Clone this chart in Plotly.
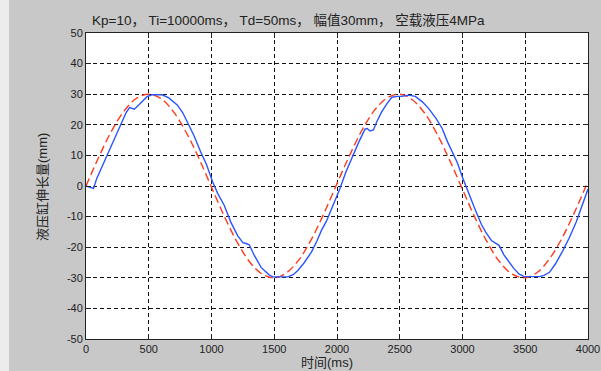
import plotly.graph_objects as go

# Reference (red dashed) curve, sampled every 100 ms
ref_t = list(range(0, 4001, 100))
ref_v = [0.0, 9.3, 17.7, 24.3, 28.6, 30.0, 28.5, 24.1, 17.4, 9.0,
         -0.4, -9.7, -18.0, -24.6, -28.7, -30.0, -28.3, -23.9, -17.1, -8.6,
         0.8, 10.0, 18.3, 24.8, 28.8, 30.0, 28.2, 23.7, 16.8, 8.2,
         -1.1, -10.4, -18.6, -25.0, -28.9, -30.0, -28.1, -23.4, -16.5, -7.9,
         1.5]

# Measured (blue) response
blue_t = [0, 20, 60, 85, 140, 192, 240, 272, 320, 347, 370, 385, 420, 460, 486,
          526, 606, 660, 727, 770, 807, 860, 914, 960, 1008, 1050, 1100, 1154,
          1208, 1250, 1275, 1301, 1341, 1395, 1461, 1490, 1608, 1650, 1688,
          1740, 1796, 1840, 1876, 1916, 1956, 2023, 2070, 2116, 2170, 2223,
          2240, 2263, 2290, 2317, 2357, 2400, 2437, 2480, 2517, 2571, 2624,
          2680, 2731, 2790, 2838, 2880, 2918, 2960, 2998, 3040, 3078, 3104,
          3150, 3185, 3230, 3265, 3291, 3330, 3371, 3410, 3452, 3492, 3612,
          3650, 3693, 3740, 3800, 3850, 3906, 3950, 4000]
blue_v = [0.0, -0.3, -0.8, 2.4, 7.5, 12.2, 17.0, 20.0, 24.0, 25.6, 25.2, 25.1,
          26.5, 28.3, 29.2, 29.8, 29.8, 28.8, 26.5, 24.0, 21.0, 16.5, 11.1, 7.0,
          1.5, -2.5, -6.2, -11.8, -16.2, -18.5, -18.8, -19.2, -22.7, -26.6,
          -29.1, -29.7, -29.7, -29.0, -27.6, -25.0, -21.6, -18.0, -14.5, -11.5,
          -7.5, -0.9, 4.5, 9.0, 14.0, 18.6, 18.8, 18.0, 18.3, 21.0, 24.3, 27.0,
          29.0, 29.3, 29.3, 29.7, 29.3, 27.5, 25.3, 22.0, 18.8, 14.5, 11.1, 7.5,
          3.0, -1.5, -5.0, -8.0, -12.5, -15.1, -17.8, -18.6, -19.4, -22.5, -24.9,
          -27.0, -28.8, -29.6, -29.6, -29.2, -28.2, -25.5, -21.1, -17.0, -11.8,
          -7.0, -1.0]

x_ticks = [0, 500, 1000, 1500, 2000, 2500, 3000, 3500, 4000]
y_ticks = [-50, -40, -30, -20, -10, 0, 10, 20, 30, 40, 50]

title_text = "Kp=10， Ti=10000ms， Td=50ms， 幅值30mm， 空载液压4MPa"
x_title = "时间(ms)"
y_title = "液压缸伸长量(mm)"

W, H = 601, 371
L, R, T, B = 86, 13, 33, 32
pw, ph = W - L - R, H - T - B

def px_to_paper_x(px):
    return (px - L) / pw

def px_to_paper_y(py):
    return (H - B - py) / ph

fig = go.Figure()
fig.add_trace(go.Scatter(x=ref_t, y=ref_v, mode="lines",
                         line=dict(color="#ff3a1a", width=1.4, dash="8px,4px", shape="spline"),
                         showlegend=False, hoverinfo="skip"))
fig.add_trace(go.Scatter(x=blue_t, y=blue_v, mode="lines",
                         line=dict(color="#2a55ff", width=1.4),
                         showlegend=False, hoverinfo="skip"))

font_main = "Liberation Sans, Arial, Noto Sans CJK SC, sans-serif"

axis_common = dict(showline=True, linecolor="#222", linewidth=1, mirror="ticks",
                   ticks="inside", ticklen=5, tickcolor="#222",
                   showgrid=True, gridcolor="#111", gridwidth=1, griddash="4px,3px",
                   zeroline=False, ticklabeloverflow="allow",
                   tickfont=dict(size=11, color="#222", family=font_main))

fig.update_xaxes(range=[0, 4000], tickvals=x_ticks, ticktext=[str(v) for v in x_ticks], **axis_common)
fig.update_yaxes(range=[-50, 50], tickvals=y_ticks, ticktext=[str(v) for v in y_ticks], **axis_common)

fig.update_layout(
    width=W, height=H,
    margin=dict(l=L, r=R, t=T, b=B, pad=0, autoexpand=False),
    paper_bgcolor="#c8c8c8", plot_bgcolor="white",
    font=dict(family=font_main, color="#222"),
    shapes=[dict(type="rect", xref="paper", yref="paper",
                 x0=px_to_paper_x(0), x1=px_to_paper_x(9),
                 y0=px_to_paper_y(H), y1=px_to_paper_y(0),
                 fillcolor="#ececec", line=dict(width=0), layer="below")],
    annotations=[
        dict(text=title_text, xref="paper", yref="paper",
             x=px_to_paper_x(288), y=px_to_paper_y(21), xanchor="center", yanchor="middle",
             showarrow=False, font=dict(size=13.5, color="#222", family=font_main)),
        dict(text=x_title, xref="paper", yref="paper",
             x=px_to_paper_x(327), y=px_to_paper_y(362), xanchor="center", yanchor="middle",
             showarrow=False, font=dict(size=13, color="#222", family=font_main)),
        dict(text=y_title, xref="paper", yref="paper", textangle=-90,
             x=px_to_paper_x(42), y=px_to_paper_y(187), xanchor="center", yanchor="middle",
             showarrow=False, font=dict(size=13, color="#222", family=font_main)),
    ],
)

fig.write_html("out.html", config={"displayModeBar": False},
               post_script="document.body.style.margin='0';document.body.style.overflow='hidden';")
